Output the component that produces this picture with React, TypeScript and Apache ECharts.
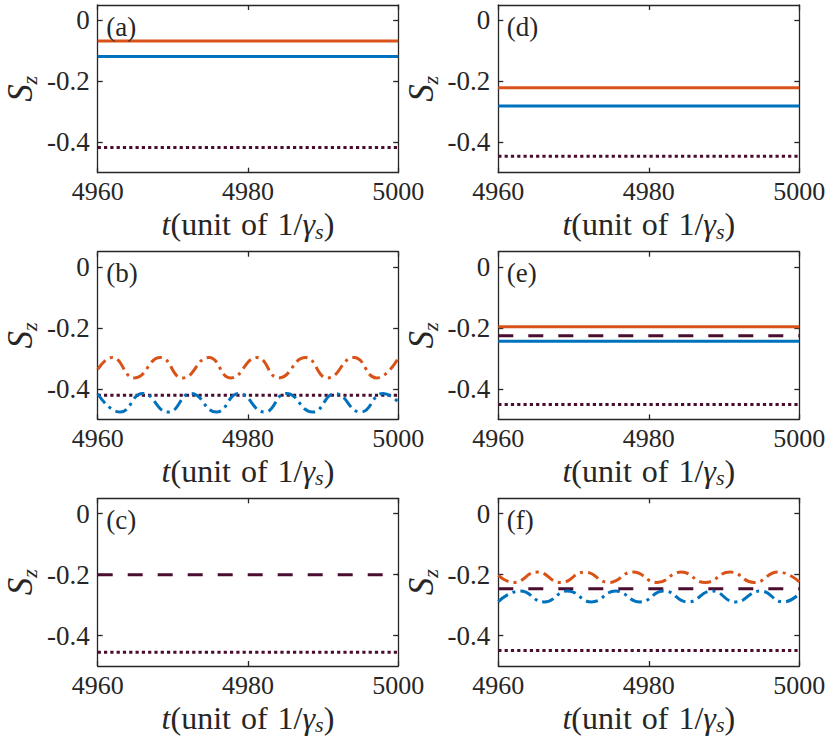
import React, { useEffect, useRef } from "react";
import * as echarts from "echarts";

// ---------- data ----------
const T_START = 4960;
const T_END = 5000;
const xTickStep = 20;
const yTickValues = [0, -0.2, -0.4];
const Y_MIN = -0.5;
const Y_MAX = 0.05;
const panelLabels = ["(a)", "(b)", "(c)", "(d)", "(e)", "(f)"];
const panelKeys = ["a", "b", "c", "d", "e", "f"];

// steady (constant) levels per panel
const solidOrangeLevels: Record<string, number> = { a: -0.068, d: -0.221, e: -0.196 };
const solidBlueLevels: Record<string, number> = { a: -0.119, d: -0.281, e: -0.244 };
const dashedLevels: Record<string, number> = { c: -0.201, e: -0.226, f: -0.247 };
const dottedLevels: Record<string, number> = { a: -0.417, b: -0.421, c: -0.455, d: -0.446, e: -0.451, f: -0.449 };

// oscillating curves (peaks / troughs)
const bOrange: [number, number][] = [
  [4960, -0.336], [4961.9, -0.297], [4964.9, -0.364], [4968.35, -0.297], [4971.3, -0.364],
  [4974.8, -0.297], [4977.7, -0.364], [4981.2, -0.297], [4984.1, -0.364], [4987.65, -0.297],
  [4990.6, -0.364], [4994.1, -0.297], [4997.1, -0.364], [5000, -0.3],
];
const bBlue: [number, number][] = [
  [4960, -0.416], [4963.0, -0.476], [4966.0, -0.415], [4969.4, -0.476], [4972.4, -0.415],
  [4975.8, -0.476], [4978.8, -0.415], [4982.2, -0.476], [4985.1, -0.415], [4988.6, -0.476],
  [4991.6, -0.415], [4995.0, -0.476], [4998.0, -0.415], [5000, -0.443],
];
const fOrange: [number, number][] = [
  [4960, -0.203], [4962.0, -0.226], [4965.2, -0.192], [4968.3, -0.226], [4971.5, -0.192],
  [4974.7, -0.226], [4977.9, -0.192], [4981.1, -0.226], [4984.3, -0.192], [4987.5, -0.226],
  [4990.8, -0.192], [4994.0, -0.226], [4997.2, -0.192], [5000, -0.224],
];
const fBlue: [number, number][] = [
  [4960, -0.289], [4962.9, -0.254], [4966.1, -0.29], [4969.2, -0.254], [4972.4, -0.29],
  [4975.6, -0.254], [4978.8, -0.29], [4982.0, -0.254], [4985.2, -0.29], [4988.4, -0.254],
  [4991.5, -0.29], [4994.8, -0.254], [4997.9, -0.29], [5000, -0.263],
];
const oscOrange: Record<string, [number, number][]> = { b: bOrange, f: fOrange };
const oscBlue: Record<string, [number, number][]> = { b: bBlue, f: fBlue };

// ---------- layout / style ----------
const colLeft = [97.7, 498.3];
const colWidth = [300.5, 301];
const rowTop = [5, 251.7, 498.3];
const rowHeight = 167.7;

const FONT = "Liberation Serif, Times New Roman, serif";
const INK = "#262626";
const ORANGE = "#D95319";
const BLUE = "#0072BD";
const MAROON = "#4a0d2f";
const LW = 3;
const DOTTED = [3.2, 3.1];
const DASHED = [15, 15];
const DASHDOT = [12, 5, 3, 5];

function panelPos(i: number) {
  const col = i < 3 ? 0 : 1;
  const row = i % 3;
  return { left: colLeft[col], top: rowTop[row], width: colWidth[col], height: rowHeight };
}

function buildOption() {
  const grid: any[] = [];
  const xAxis: any[] = [];
  const yAxis: any[] = [];
  const series: any[] = [];
  const graphic: any[] = [];

  const axisLine = { show: true, onZero: false, lineStyle: { color: INK, width: 1.3 } };
  const tickStyle = { color: INK, width: 1.3 };

  panelKeys.forEach((key, i) => {
    const p = panelPos(i);
    grid.push({ left: p.left, top: p.top, width: p.width, height: p.height, containLabel: false, outerBoundsMode: "none" });

    // bottom x axis
    xAxis.push({
      type: "value", gridIndex: i, position: "bottom", min: T_START, max: T_END, interval: xTickStep,
      axisLine, axisTick: { show: true, inside: true, length: 5, lineStyle: tickStyle },
      axisLabel: {
        show: true, margin: 6, fontSize: 26, lineHeight: 26, fontFamily: FONT, color: INK,
        formatter: (v: number) => String(v),
      },
      splitLine: { show: false },
      name: "{i|t}{n|(unit}{sp| }{n|of}{sp| }{n|1/}{i|γ}{s|s}{n|)}",
      nameLocation: "middle", nameGap: 33.5, nameMoveOverlap: false,
      nameTextStyle: {
        fontFamily: FONT, fontSize: 32, color: INK, lineHeight: 36,
        rich: {
          i: { fontFamily: FONT, fontSize: 32, fontStyle: "italic", color: INK, lineHeight: 36 },
          n: { fontFamily: FONT, fontSize: 32, color: INK, lineHeight: 36 },
          sp: { fontFamily: FONT, fontSize: 32, color: INK, lineHeight: 36, width: 10 },
          s: { fontFamily: FONT, fontSize: 22, fontStyle: "italic", color: INK, lineHeight: 20, verticalAlign: "bottom" },
        },
      },
    });
    // top x axis (ticks only)
    xAxis.push({
      type: "value", gridIndex: i, position: "top", min: T_START, max: T_END, interval: xTickStep,
      axisLine, axisTick: { show: true, inside: true, length: 5, lineStyle: tickStyle },
      axisLabel: { show: false }, splitLine: { show: false },
    });
    // left y axis
    yAxis.push({
      type: "value", gridIndex: i, position: "left", min: Y_MIN, max: Y_MAX,
      axisLine,
      axisTick: { show: true, inside: true, length: 5, lineStyle: tickStyle, customValues: yTickValues },
      axisLabel: {
        show: true, margin: 8, fontSize: 27, fontFamily: FONT, color: INK, customValues: yTickValues,
        formatter: (v: number) => (Math.abs(v) < 1e-9 ? "0" : v.toFixed(1)),
      },
      splitLine: { show: false },
      name: "{s|S}{z|z}",
      nameLocation: "middle", nameRotate: 90, nameGap: 57, nameMoveOverlap: false,
      nameTextStyle: {
        fontFamily: FONT, fontSize: 35, color: INK,
        rich: {
          s: { fontFamily: FONT, fontSize: 35, fontStyle: "italic", color: INK, lineHeight: 40 },
          z: { fontFamily: FONT, fontSize: 22, fontStyle: "italic", color: INK, lineHeight: 20, verticalAlign: "bottom" },
        },
      },
    });
    // right y axis (ticks only)
    yAxis.push({
      type: "value", gridIndex: i, position: "right", min: Y_MIN, max: Y_MAX,
      axisLine,
      axisTick: { show: true, inside: true, length: 5, lineStyle: tickStyle, customValues: yTickValues },
      axisLabel: { show: false }, splitLine: { show: false },
    });

    const xi = 2 * i;
    const yi = 2 * i;
    const flat = (v: number) => [[T_START, v], [T_END, v]];
    const base = { type: "line", xAxisIndex: xi, yAxisIndex: yi, showSymbol: false, symbol: "none", silent: true };

    if (dottedLevels[key] !== undefined) {
      series.push({ ...base, name: "dotted-" + key, data: flat(dottedLevels[key]),
        lineStyle: { color: MAROON, width: LW, type: DOTTED, cap: "butt" } });
    }
    if (dashedLevels[key] !== undefined) {
      series.push({ ...base, name: "dashed-" + key, data: flat(dashedLevels[key]),
        lineStyle: { color: MAROON, width: LW, type: DASHED, cap: "butt" } });
    }
    if (solidOrangeLevels[key] !== undefined) {
      series.push({ ...base, name: "orange-" + key, data: flat(solidOrangeLevels[key]),
        lineStyle: { color: ORANGE, width: LW, type: "solid" } });
    }
    if (solidBlueLevels[key] !== undefined) {
      series.push({ ...base, name: "blue-" + key, data: flat(solidBlueLevels[key]),
        lineStyle: { color: BLUE, width: LW, type: "solid" } });
    }
    if (oscOrange[key]) {
      series.push({ ...base, name: "orange-osc-" + key, data: oscOrange[key], smooth: true,
        lineStyle: { color: ORANGE, width: LW, type: DASHDOT, cap: "butt" } });
    }
    if (oscBlue[key]) {
      series.push({ ...base, name: "blue-osc-" + key, data: oscBlue[key], smooth: true,
        lineStyle: { color: BLUE, width: LW, type: DASHDOT, cap: "butt" } });
    }

    graphic.push({
      type: "text", x: p.left + 8.5, y: p.top + 21.5, z: 100, silent: true,
      style: {
        text: panelLabels[i], fontFamily: FONT, fontSize: 27, fill: INK,
        align: "left", verticalAlign: "middle", textAlign: "left", textVerticalAlign: "middle",
      },
    });
  });

  return {
    animation: false,
    backgroundColor: "#ffffff",
    grid, xAxis, yAxis, series, graphic,
  };
}

export default function App() {
  const ref = useRef<HTMLDivElement | null>(null);
  useEffect(() => {
    document.body.style.margin = "0";
    if (!ref.current) return;
    const chart = echarts.init(ref.current, null, { renderer: "svg" });
    chart.setOption(buildOption() as any);
    return () => chart.dispose();
  }, []);
  return <div ref={ref} style={{ position: "absolute", left: 0, top: 0, width: 830, height: 742, background: "#fff" }} />;
}
